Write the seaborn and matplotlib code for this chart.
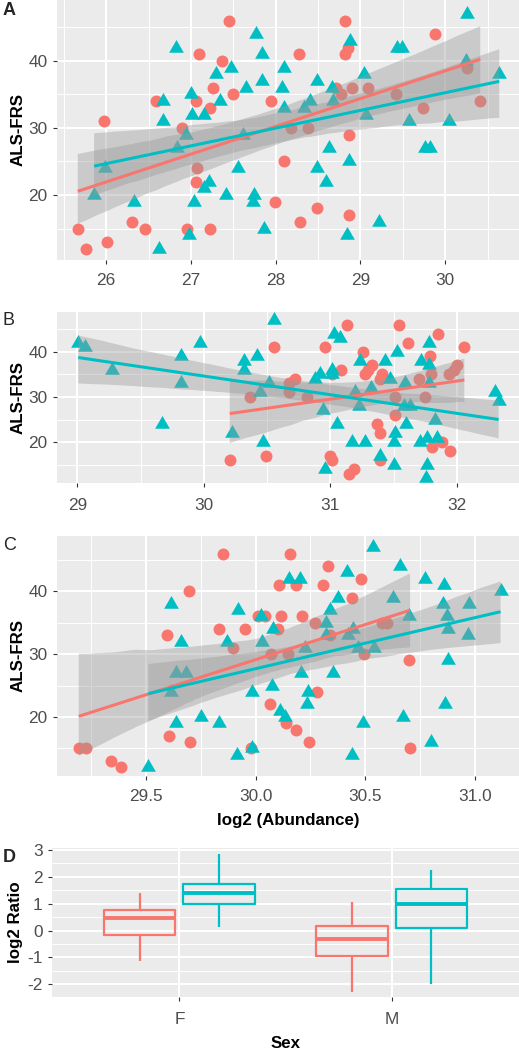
import numpy as np
import pandas as pd
import matplotlib
matplotlib.use("Agg")
import matplotlib.pyplot as plt
import seaborn as sns
from matplotlib.ticker import FixedLocator, FormatStrFormatter

RED = "#F8766D"
TEAL = "#00BFC4"

# ---------------- Panel A ----------------
a_red_x = [25.665, 25.764, 25.98, 26.008, 26.307, 26.461, 26.591, 26.894, 26.953, 27.071,
           27.063, 27.063, 27.098, 27.22, 27.22, 27.255, 27.365, 27.447, 27.491, 27.947,
           27.994, 28.10, 28.183, 28.269, 28.289, 28.383, 28.49, 28.714, 28.769, 28.812,
           28.82, 28.848, 28.867, 28.867, 28.899, 29.088, 29.422, 29.733, 29.874, 30.256, 30.413]
a_red_y = [15, 12, 31, 13, 16, 15, 34, 30, 15, 24,
           22, 34, 41, 33, 15, 36, 40, 46, 35, 34,
           19, 25, 30, 41, 16, 30, 18, 36, 35, 46,
           41, 42, 29, 17, 36, 36, 35, 33, 44, 39, 34]
a_teal_x = [25.858, 25.992, 26.323, 26.618, 26.665, 26.669, 26.823, 26.835, 26.941, 26.972,
            27.0, 27.012, 27.031, 27.157, 27.157, 27.209, 27.295, 27.346, 27.413, 27.472,
            27.555, 27.61, 27.65, 27.74, 27.728, 27.768, 27.839, 27.843, 27.858, 28.098,
            28.079, 28.102, 28.339, 28.409, 28.488, 28.488, 28.598, 28.626, 28.673, 28.665,
            28.841, 28.88, 28.868, 29.037, 29.064, 29.213, 29.43, 29.489, 29.575, 29.764,
            29.823, 30.039, 30.256, 30.244, 30.637]
a_teal_y = [20, 24, 19, 12, 34, 31, 42, 27, 29, 14,
            35, 32, 19, 32, 21, 22, 38, 34, 20, 39,
            24, 29, 36, 20, 19, 44, 41, 37, 15, 39,
            36, 33, 33, 34, 37, 24, 22, 27, 34, 36,
            14, 43, 25, 38, 32, 16, 42, 42, 31, 27,
            27, 31, 47, 40, 38]

# ---------------- Panel B ----------------
b_red_x = [30.205, 30.363, 30.492, 30.553, 30.718, 30.671, 30.671, 30.816, 30.955, 31.013,
           31.0, 31.013, 31.087, 31.132, 31.145, 31.184, 31.255, 31.276, 31.297, 31.329,
           31.368, 31.395, 31.395, 31.408, 31.389, 31.513, 31.508, 31.545, 31.611, 31.703,
           31.745, 31.784, 31.797, 31.803, 31.847, 31.882, 31.939, 31.942, 31.974, 32.0, 32.058]
b_red_y = [16, 30, 17, 41, 34, 33, 31, 30, 41, 35,
           17, 16, 36, 46, 13, 14, 40, 35, 36, 37,
           24, 22, 34, 35, 16, 26, 30, 46, 42, 34,
           30, 39, 35, 19, 44, 20, 35, 18, 36, 37, 41]
b_teal_x = [29.008, 29.06, 29.271, 29.671, 29.816, 29.816, 29.966, 30.224, 30.316, 30.316,
            30.421, 30.447, 30.466, 30.513, 30.553, 31.026, 31.079, 30.876, 30.921, 31.013,
            31.013, 31.237, 30.939, 31.053, 31.192, 31.229, 31.171, 31.276, 31.324, 31.434,
            31.468, 31.526, 31.395, 31.5, 31.508, 31.5, 31.592, 31.597, 31.579, 31.632,
            31.711, 31.763, 31.842, 31.718, 31.776, 31.776, 31.776, 31.824, 31.763, 31.755,
            32.297, 32.329, 30.961]
b_teal_y = [42, 41, 36, 24, 39, 33, 42, 22, 38, 36,
            39, 31, 20, 33, 47, 44, 43, 34, 35, 36,
            35, 38, 27, 24, 31, 28, 20, 20, 32, 38,
            34, 40, 17, 20, 22, 15, 33, 24, 28, 28,
            20, 21, 21, 38, 42, 37, 33, 25, 15, 12,
            31, 29, 14]

# ---------------- Panel C ----------------
c_red_x = [29.195, 29.226, 29.34, 29.386, 29.599, 29.607, 29.698, 29.703, 29.851, 29.835,
           29.899, 29.95, 29.98, 30.011, 30.041, 30.107, 30.117, 30.102, 30.064, 30.14,
           30.155, 30.072, 30.148, 30.186, 30.331, 30.308, 30.479, 30.438, 30.213, 30.27,
           30.338, 30.282, 30.186, 30.244, 30.494, 30.575, 30.598, 30.701, 30.704]
c_red_y = [15, 15, 13, 12, 33, 17, 40, 16, 46, 34,
           31, 34, 15, 36, 36, 41, 36, 34, 22, 19,
           46, 30, 30, 41, 44, 41, 42, 39, 36, 35,
           33, 24, 18, 16, 30, 35, 35, 29, 15]
c_teal_x = [29.512, 29.614, 29.66, 29.637, 29.683, 29.614, 29.637, 29.752, 29.835, 29.869,
            29.919, 29.916, 29.985, 29.985, 30.03, 30.026, 30.079, 30.076, 30.113, 30.133,
            30.152, 30.201, 30.377, 30.418, 30.338, 30.32, 30.32, 30.445, 30.422, 30.224,
            30.468, 30.54, 30.209, 30.354, 30.239, 30.235, 30.488, 30.441, 30.534, 30.659,
            30.625, 30.697, 30.674, 30.773, 30.86, 30.854, 30.872, 30.877, 30.971, 30.966,
            30.875, 30.864, 30.799, 31.116]
c_teal_y = [12, 38, 32, 27, 27, 24, 19, 20, 19, 32,
            37, 14, 15, 24, 32, 36, 34, 25, 21, 20,
            42, 42, 39, 43, 37, 35, 33, 34, 33, 31,
            31, 31, 27, 27, 24, 22, 19, 14, 47, 44,
            39, 36, 20, 42, 41, 38, 36, 34, 38, 33,
            29, 22, 16, 40]

# ---------------- Panel D (box summaries: low whisker, Q1, median, Q3, high whisker) ----
d_sex = ["F", "M"]
d_groups = ["Group 1", "Group 2"]
d_f_red = [-1.15, -0.18, 0.47, 0.78, 1.38]
d_f_teal = [0.15, 1.00, 1.38, 1.75, 2.85]
d_m_red = [-2.30, -0.95, -0.30, 0.17, 1.08]
d_m_teal = [-2.00, 0.10, 0.98, 1.53, 2.27]

# ---------------- style ----------------
sns.set_style("darkgrid", {"axes.facecolor": "#EBEBEB", "grid.color": "white"})
plt.rcParams["font.family"] = ["Liberation Sans", "DejaVu Sans"]
plt.rcParams["axes.unicode_minus"] = False

W, H = 519, 1050
fig = plt.figure(figsize=(W / 100, H / 100), dpi=100)


def px_axes(left, top, right, bottom):
    return fig.add_axes([left / W, 1 - bottom / H, (right - left) / W, (bottom - top) / H])


TICK_FS = 12.4
LAB_FS = 12.2
TRI = [(0, 1.5551), (1.3468, -0.7776), (-1.3468, -0.7776)]


def style_axes(ax, pad):
    ax.set_facecolor("#EBEBEB")
    for s in ax.spines.values():
        s.set_visible(False)
    ax.set_axisbelow(True)
    ax.grid(which="major", color="white", lw=1.45)
    ax.grid(which="minor", color="white", lw=0.7)
    ax.tick_params(which="major", length=3.2, width=0.8, color="#333333",
                   labelsize=TICK_FS, labelcolor="#4D4D4D", pad=3.6,
                   bottom=True, left=True)
    ax.tick_params(axis="x", which="major", pad=pad)
    ax.tick_params(which="minor", length=0)


def scatter_panel(ax, rx, ry, tx, ty, xlim, ylim, xmaj, xmin, xfmt):
    sns.scatterplot(x=rx, y=ry, ax=ax, color=RED, s=74, linewidth=0, marker="o", zorder=1)
    sns.scatterplot(x=tx, y=ty, ax=ax, color=TEAL, s=150, linewidth=0, marker=TRI, zorder=1)
    for xs, ys, c in ((rx, ry, RED), (tx, ty, TEAL)):
        n0 = len(ax.collections)
        sns.regplot(x=np.array(xs), y=np.array(ys), ax=ax, scatter=False, color=c,
                    ci=95, n_boot=1000, seed=3, truncate=True,
                    line_kws={"lw": 2.2, "solid_capstyle": "butt", "zorder": 3})
        for coll in ax.collections[n0:]:
            coll.set_facecolor("#999999")
            coll.set_alpha(0.4)
            coll.set_edgecolor("none")
            coll.set_zorder(2)
    ax.set_xlim(*xlim)
    ax.set_ylim(*ylim)
    ax.xaxis.set_major_locator(FixedLocator(xmaj))
    ax.xaxis.set_minor_locator(FixedLocator(xmin))
    ax.xaxis.set_major_formatter(FormatStrFormatter(xfmt))
    ax.yaxis.set_major_locator(FixedLocator([20, 30, 40]))
    ax.yaxis.set_minor_locator(FixedLocator([15, 25, 35, 45]))
    ax.set_ylabel("ALS-FRS", fontsize=LAB_FS, fontweight="bold", color="black")
    ax.yaxis.set_label_coords(-0.069, 0.5)
    ax.set_xlabel("")


axA = px_axes(57, 0, 519, 260)
style_axes(axA, 6.5)
scatter_panel(axA, a_red_x, a_red_y, a_teal_x, a_teal_y, (25.42, 30.87), (10.3, 49.1),
              [26, 27, 28, 29, 30], [25.5, 26.5, 27.5, 28.5, 29.5, 30.5], "%d")

axB = px_axes(57, 312, 519, 483)
style_axes(axB, 7.5)
scatter_panel(axB, b_red_x, b_red_y, b_teal_x, b_teal_y, (28.84, 32.49), (10.95, 48.8),
              [29, 30, 31, 32], [29.5, 30.5, 31.5], "%d")

axC = px_axes(57, 536, 519, 776)
style_axes(axC, 6.5)
scatter_panel(axC, c_red_x, c_red_y, c_teal_x, c_teal_y, (29.096, 31.2), (10.6, 48.8),
              [29.5, 30.0, 30.5, 31.0], [29.25, 29.75, 30.25, 30.75], "%.1f")
axC.set_xlabel("log2 (Abundance)", fontsize=LAB_FS, fontweight="bold", color="black")
axC.xaxis.set_label_coords(0.5, -0.155)

# ---------------- Panel D ----------------
rows = []
for sex, grp, vals in (("F", d_groups[0], d_f_red), ("F", d_groups[1], d_f_teal),
                       ("M", d_groups[0], d_m_red), ("M", d_groups[1], d_m_teal)):
    for v in vals:
        rows.append({"Sex": sex, "group": grp, "ratio": v})
df_d = pd.DataFrame(rows)

axD = px_axes(52, 848, 519, 997)
style_axes(axD, 7.5)
sns.boxplot(data=df_d, x="Sex", y="ratio", hue="group", order=d_sex, hue_order=d_groups,
            palette=[RED, TEAL], fill=False, width=0.75, gap=0.1, whis=(0, 100),
            showcaps=False, linewidth=1.6, legend=False, ax=axD,
            medianprops={"linewidth": 2.8})
for p in axD.patches:
    p.set_facecolor("white")
axD.set_xlim(-0.601, 1.601)
axD.set_ylim(-2.47, 3.07)
axD.yaxis.set_major_locator(FixedLocator([-2, -1, 0, 1, 2, 3]))
axD.yaxis.set_minor_locator(FixedLocator([-2.5, -1.5, -0.5, 0.5, 1.5, 2.5]))
axD.grid(which="major", axis="x", color="white", lw=1.45)
axD.set_ylabel("log2 Ratio", fontsize=LAB_FS, fontweight="bold", color="black")
axD.yaxis.set_label_coords(-0.062, 0.5)
axD.set_xlabel("Sex", fontsize=LAB_FS, fontweight="bold", color="black")
axD.xaxis.set_label_coords(0.5, -0.262)

# panel letters
fig.text(3 / W, 1 - 15 / H, "A", fontsize=13, fontweight="bold", va="baseline", ha="left")
fig.text(3 / W, 1 - 325 / H, "B", fontsize=13, va="baseline", ha="left")
fig.text(3 / W, 1 - 550 / H, "C", fontsize=13, va="baseline", ha="left")
fig.text(3 / W, 1 - 862 / H, "D", fontsize=13, fontweight="bold", va="baseline", ha="left")

fig.savefig("out.png", dpi=100, facecolor="white")
